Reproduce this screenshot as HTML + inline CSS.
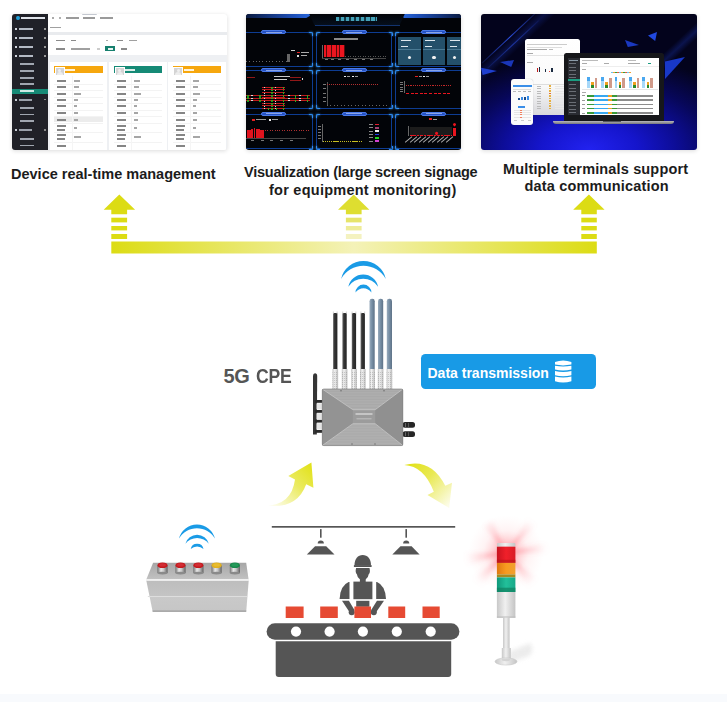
<!DOCTYPE html>
<html><head><meta charset="utf-8">
<style>
*{margin:0;padding:0;box-sizing:border-box}
html,body{width:727px;height:702px;overflow:hidden;background:#fff;font-family:"Liberation Sans",sans-serif}
.abs{position:absolute}
.card{position:absolute;border-radius:3px;overflow:hidden;box-shadow:0 1px 4px rgba(0,0,0,.14)}
.card div{position:absolute}
.cap{position:absolute;font-weight:bold;color:#1c1c1c;white-space:nowrap;font-size:14.5px;line-height:14px}
#strip{position:absolute;left:0;top:694px;width:727px;height:8px;background:#f8fafd}
</style></head><body>

<!-- card 1 : device management -->
<div class="card" id="c1" style="left:12px;top:14px;width:215px;height:136px;background:#eef0f3">
<!--C1-->
<div style="left:36.0px;top:0.0px;width:179.0px;height:11.0px;background:#fff;"></div>
<div style="left:69.6px;top:-0.8px;width:15.7px;height:1.6px;background:#c4c8d0;border-radius:1px"></div>
<div style="left:39.5px;top:3.0px;width:2.5px;height:2.2px;background:#aaa;"></div>
<div style="left:46.5px;top:3.0px;width:2.5px;height:2.2px;background:#b0b0b0;"></div>
<div style="left:53.8px;top:3.3px;width:13.0px;height:1.6px;background:#9a9a9a;"></div>
<div style="left:70.7px;top:3.3px;width:12.0px;height:1.6px;background:#9a9a9a;"></div>
<div style="left:87.7px;top:3.3px;width:12.9px;height:1.6px;background:#9a9a9a;"></div>
<div style="left:36.0px;top:11.0px;width:179.0px;height:7.0px;background:#fff;"></div>
<div style="left:38.0px;top:12.8px;width:10.5px;height:1.6px;background:#a0a0a0;"></div>
<div style="left:36.0px;top:18.0px;width:179.0px;height:3.0px;background:#e9ebee;"></div>
<div style="left:36.0px;top:21.0px;width:179.0px;height:20.0px;background:#fff;"></div>
<div style="left:43.8px;top:25.5px;width:9.0px;height:1.6px;background:#8a8a8a;"></div>
<div style="left:58.8px;top:25.5px;width:5.0px;height:1.6px;background:#8a8a8a;"></div>
<div style="left:94.0px;top:25.5px;width:1.5px;height:1.5px;background:#aaa;"></div>
<div style="left:105.0px;top:25.5px;width:6.0px;height:1.6px;background:#8a8a8a;"></div>
<div style="left:116.7px;top:25.5px;width:8.0px;height:1.6px;background:#a0a0a0;"></div>
<div style="left:43.8px;top:34.2px;width:9.0px;height:1.6px;background:#8a8a8a;"></div>
<div style="left:58.8px;top:34.2px;width:18.9px;height:1.6px;background:#a0a0a0;"></div>
<div style="left:85.0px;top:33.5px;width:2.5px;height:2.5px;background:#ccc;"></div>
<div style="left:93.3px;top:32.3px;width:9.3px;height:5.2px;background:#17806e;"></div>
<div style="left:95.5px;top:34.2px;width:5.0px;height:1.5px;background:#e8f4f2;"></div>
<div style="left:108.5px;top:34.2px;width:6.0px;height:1.6px;background:#8a8a8a;"></div>
<div style="left:38.4px;top:48.0px;width:56.9px;height:90.0px;background:#fff;"></div>
<div style="left:42.0px;top:52.0px;width:48.9px;height:7.4px;background:#f6a70e;"></div>
<div style="left:53.0px;top:54.8px;width:10.0px;height:2.0px;background:rgba(255,255,255,.85);"></div>
<div style="left:42.7px;top:52.7px;width:10.0px;height:9.4px;background:#d4d4d4;border:0.8px solid #fff"></div>
<div style="left:46.2px;top:54.5px;width:3.0px;height:3.0px;background:#f0f0f0;border-radius:50%"></div>
<div style="left:44.7px;top:58.2px;width:6.0px;height:3.0px;background:#eee;border-radius:3px 3px 0 0"></div>
<div style="left:42.0px;top:102.9px;width:48.9px;height:5.6px;background:#ececec;"></div>
<div style="left:42.0px;top:70.1px;width:48.9px;height:0.5px;background:#f3f3f3;"></div>
<div style="left:42.0px;top:76.4px;width:48.9px;height:0.5px;background:#f3f3f3;"></div>
<div style="left:42.0px;top:83.0px;width:48.9px;height:0.5px;background:#f3f3f3;"></div>
<div style="left:42.0px;top:89.2px;width:48.9px;height:0.5px;background:#f3f3f3;"></div>
<div style="left:42.0px;top:95.6px;width:48.9px;height:0.5px;background:#f3f3f3;"></div>
<div style="left:42.0px;top:102.4px;width:48.9px;height:0.5px;background:#f3f3f3;"></div>
<div style="left:42.0px;top:108.5px;width:48.9px;height:0.5px;background:#f3f3f3;"></div>
<div style="left:42.0px;top:118.3px;width:48.9px;height:0.5px;background:#f3f3f3;"></div>
<div style="left:42.0px;top:127.6px;width:48.9px;height:0.5px;background:#f3f3f3;"></div>
<div style="left:59.5px;top:62.0px;width:0.5px;height:74.0px;background:#f5f5f5;"></div>
<div style="left:45.4px;top:66.0px;width:9.0px;height:1.5px;background:#858585;"></div>
<div style="left:62.0px;top:66.0px;width:6.0px;height:1.5px;background:#a6a6a6;"></div>
<div style="left:45.4px;top:72.0px;width:9.0px;height:1.5px;background:#858585;"></div>
<div style="left:62.0px;top:72.0px;width:5.0px;height:1.5px;background:#a6a6a6;"></div>
<div style="left:45.4px;top:79.0px;width:9.0px;height:1.5px;background:#858585;"></div>
<div style="left:62.0px;top:79.0px;width:7.0px;height:1.5px;background:#a6a6a6;"></div>
<div style="left:45.4px;top:85.0px;width:9.0px;height:1.5px;background:#858585;"></div>
<div style="left:62.0px;top:85.0px;width:4.0px;height:1.5px;background:#a6a6a6;"></div>
<div style="left:45.4px;top:91.0px;width:9.0px;height:1.5px;background:#858585;"></div>
<div style="left:62.0px;top:91.0px;width:3.0px;height:1.5px;background:#a6a6a6;"></div>
<div style="left:45.4px;top:98.0px;width:9.0px;height:1.5px;background:#858585;"></div>
<div style="left:62.0px;top:98.0px;width:4.0px;height:1.5px;background:#a6a6a6;"></div>
<div style="left:45.4px;top:105.0px;width:9.0px;height:1.5px;background:#858585;"></div>
<div style="left:62.0px;top:105.0px;width:4.0px;height:1.5px;background:#a6a6a6;"></div>
<div style="left:45.4px;top:111.0px;width:9.0px;height:1.5px;background:#858585;"></div>
<div style="left:45.4px;top:115.0px;width:8.0px;height:1.5px;background:#858585;"></div>
<div style="left:62.0px;top:113.0px;width:3.0px;height:1.5px;background:#a6a6a6;"></div>
<div style="left:45.4px;top:120.0px;width:9.0px;height:1.5px;background:#858585;"></div>
<div style="left:45.4px;top:124.0px;width:8.0px;height:1.5px;background:#858585;"></div>
<div style="left:62.0px;top:122.0px;width:7.0px;height:1.5px;background:#a6a6a6;"></div>
<div style="left:45.4px;top:131.0px;width:9.0px;height:1.5px;background:#858585;"></div>
<div style="left:96.9px;top:48.0px;width:57.8px;height:90.0px;background:#fff;"></div>
<div style="left:101.9px;top:52.0px;width:47.8px;height:7.4px;background:#158a76;"></div>
<div style="left:112.9px;top:54.8px;width:10.0px;height:2.0px;background:rgba(255,255,255,.85);"></div>
<div style="left:102.6px;top:52.7px;width:10.0px;height:9.4px;background:#d4d4d4;border:0.8px solid #fff"></div>
<div style="left:106.1px;top:54.5px;width:3.0px;height:3.0px;background:#f0f0f0;border-radius:50%"></div>
<div style="left:104.6px;top:58.2px;width:6.0px;height:3.0px;background:#eee;border-radius:3px 3px 0 0"></div>
<div style="left:101.9px;top:70.1px;width:47.8px;height:0.5px;background:#f3f3f3;"></div>
<div style="left:101.9px;top:76.4px;width:47.8px;height:0.5px;background:#f3f3f3;"></div>
<div style="left:101.9px;top:83.0px;width:47.8px;height:0.5px;background:#f3f3f3;"></div>
<div style="left:101.9px;top:89.2px;width:47.8px;height:0.5px;background:#f3f3f3;"></div>
<div style="left:101.9px;top:95.6px;width:47.8px;height:0.5px;background:#f3f3f3;"></div>
<div style="left:101.9px;top:102.4px;width:47.8px;height:0.5px;background:#f3f3f3;"></div>
<div style="left:101.9px;top:108.5px;width:47.8px;height:0.5px;background:#f3f3f3;"></div>
<div style="left:101.9px;top:118.3px;width:47.8px;height:0.5px;background:#f3f3f3;"></div>
<div style="left:101.9px;top:127.6px;width:47.8px;height:0.5px;background:#f3f3f3;"></div>
<div style="left:119.4px;top:62.0px;width:0.5px;height:74.0px;background:#f5f5f5;"></div>
<div style="left:105.3px;top:66.0px;width:9.0px;height:1.5px;background:#858585;"></div>
<div style="left:121.9px;top:66.0px;width:6.0px;height:1.5px;background:#a6a6a6;"></div>
<div style="left:105.3px;top:72.0px;width:9.0px;height:1.5px;background:#858585;"></div>
<div style="left:121.9px;top:72.0px;width:5.0px;height:1.5px;background:#a6a6a6;"></div>
<div style="left:105.3px;top:79.0px;width:9.0px;height:1.5px;background:#858585;"></div>
<div style="left:121.9px;top:79.0px;width:7.0px;height:1.5px;background:#a6a6a6;"></div>
<div style="left:105.3px;top:85.0px;width:9.0px;height:1.5px;background:#858585;"></div>
<div style="left:121.9px;top:85.0px;width:4.0px;height:1.5px;background:#a6a6a6;"></div>
<div style="left:105.3px;top:91.0px;width:9.0px;height:1.5px;background:#858585;"></div>
<div style="left:121.9px;top:91.0px;width:3.0px;height:1.5px;background:#a6a6a6;"></div>
<div style="left:105.3px;top:98.0px;width:9.0px;height:1.5px;background:#858585;"></div>
<div style="left:121.9px;top:98.0px;width:4.0px;height:1.5px;background:#a6a6a6;"></div>
<div style="left:105.3px;top:105.0px;width:9.0px;height:1.5px;background:#858585;"></div>
<div style="left:121.9px;top:105.0px;width:4.0px;height:1.5px;background:#a6a6a6;"></div>
<div style="left:105.3px;top:111.0px;width:9.0px;height:1.5px;background:#858585;"></div>
<div style="left:105.3px;top:115.0px;width:8.0px;height:1.5px;background:#858585;"></div>
<div style="left:121.9px;top:113.0px;width:3.0px;height:1.5px;background:#a6a6a6;"></div>
<div style="left:105.3px;top:120.0px;width:9.0px;height:1.5px;background:#858585;"></div>
<div style="left:105.3px;top:124.0px;width:8.0px;height:1.5px;background:#858585;"></div>
<div style="left:121.9px;top:122.0px;width:7.0px;height:1.5px;background:#a6a6a6;"></div>
<div style="left:105.3px;top:131.0px;width:9.0px;height:1.5px;background:#858585;"></div>
<div style="left:156.3px;top:48.0px;width:57.7px;height:90.0px;background:#fff;"></div>
<div style="left:160.6px;top:52.0px;width:48.4px;height:7.4px;background:#f6a70e;"></div>
<div style="left:171.6px;top:54.8px;width:10.0px;height:2.0px;background:rgba(255,255,255,.85);"></div>
<div style="left:161.3px;top:52.7px;width:10.0px;height:9.4px;background:#d4d4d4;border:0.8px solid #fff"></div>
<div style="left:164.8px;top:54.5px;width:3.0px;height:3.0px;background:#f0f0f0;border-radius:50%"></div>
<div style="left:163.3px;top:58.2px;width:6.0px;height:3.0px;background:#eee;border-radius:3px 3px 0 0"></div>
<div style="left:160.6px;top:70.1px;width:48.4px;height:0.5px;background:#f3f3f3;"></div>
<div style="left:160.6px;top:76.4px;width:48.4px;height:0.5px;background:#f3f3f3;"></div>
<div style="left:160.6px;top:83.0px;width:48.4px;height:0.5px;background:#f3f3f3;"></div>
<div style="left:160.6px;top:89.2px;width:48.4px;height:0.5px;background:#f3f3f3;"></div>
<div style="left:160.6px;top:95.6px;width:48.4px;height:0.5px;background:#f3f3f3;"></div>
<div style="left:160.6px;top:102.4px;width:48.4px;height:0.5px;background:#f3f3f3;"></div>
<div style="left:160.6px;top:108.5px;width:48.4px;height:0.5px;background:#f3f3f3;"></div>
<div style="left:160.6px;top:118.3px;width:48.4px;height:0.5px;background:#f3f3f3;"></div>
<div style="left:160.6px;top:127.6px;width:48.4px;height:0.5px;background:#f3f3f3;"></div>
<div style="left:178.1px;top:62.0px;width:0.5px;height:74.0px;background:#f5f5f5;"></div>
<div style="left:164.0px;top:66.0px;width:9.0px;height:1.5px;background:#858585;"></div>
<div style="left:180.6px;top:66.0px;width:6.0px;height:1.5px;background:#a6a6a6;"></div>
<div style="left:164.0px;top:72.0px;width:9.0px;height:1.5px;background:#858585;"></div>
<div style="left:180.6px;top:72.0px;width:5.0px;height:1.5px;background:#a6a6a6;"></div>
<div style="left:164.0px;top:79.0px;width:9.0px;height:1.5px;background:#858585;"></div>
<div style="left:180.6px;top:79.0px;width:7.0px;height:1.5px;background:#a6a6a6;"></div>
<div style="left:164.0px;top:85.0px;width:9.0px;height:1.5px;background:#858585;"></div>
<div style="left:180.6px;top:85.0px;width:4.0px;height:1.5px;background:#a6a6a6;"></div>
<div style="left:164.0px;top:91.0px;width:9.0px;height:1.5px;background:#858585;"></div>
<div style="left:180.6px;top:91.0px;width:3.0px;height:1.5px;background:#a6a6a6;"></div>
<div style="left:164.0px;top:98.0px;width:9.0px;height:1.5px;background:#858585;"></div>
<div style="left:180.6px;top:98.0px;width:4.0px;height:1.5px;background:#a6a6a6;"></div>
<div style="left:164.0px;top:105.0px;width:9.0px;height:1.5px;background:#858585;"></div>
<div style="left:180.6px;top:105.0px;width:4.0px;height:1.5px;background:#a6a6a6;"></div>
<div style="left:164.0px;top:111.0px;width:9.0px;height:1.5px;background:#858585;"></div>
<div style="left:164.0px;top:115.0px;width:8.0px;height:1.5px;background:#858585;"></div>
<div style="left:180.6px;top:113.0px;width:3.0px;height:1.5px;background:#a6a6a6;"></div>
<div style="left:164.0px;top:120.0px;width:9.0px;height:1.5px;background:#858585;"></div>
<div style="left:164.0px;top:124.0px;width:8.0px;height:1.5px;background:#858585;"></div>
<div style="left:180.6px;top:122.0px;width:7.0px;height:1.5px;background:#a6a6a6;"></div>
<div style="left:164.0px;top:131.0px;width:9.0px;height:1.5px;background:#858585;"></div>
<div style="left:36.0px;top:135.6px;width:179.0px;height:1.0px;background:#e8e8e8;"></div>
<div style="left:0.0px;top:0.0px;width:36.0px;height:136.0px;background:#202128;"></div>
<div style="left:4.0px;top:2.0px;width:3.6px;height:4.0px;background:#1f9fd8;border-radius:50%"></div>
<div style="left:9.0px;top:3.2px;width:24.0px;height:1.8px;background:#dfe3ea;"></div>
<div style="left:3.0px;top:13.9px;width:2.0px;height:2.0px;background:#d0d4dc;"></div>
<div style="left:7.0px;top:14.0px;width:14.0px;height:1.8px;background:#b4bac4;"></div>
<div style="left:32.0px;top:14.1px;width:1.6px;height:1.6px;background:#999;"></div>
<div style="left:3.0px;top:22.9px;width:2.0px;height:2.0px;background:#d0d4dc;"></div>
<div style="left:7.0px;top:23.0px;width:14.0px;height:1.8px;background:#b4bac4;"></div>
<div style="left:32.0px;top:23.1px;width:1.6px;height:1.6px;background:#999;"></div>
<div style="left:3.0px;top:31.9px;width:2.0px;height:2.0px;background:#d0d4dc;"></div>
<div style="left:7.0px;top:32.0px;width:14.0px;height:1.8px;background:#b4bac4;"></div>
<div style="left:32.0px;top:32.1px;width:1.6px;height:1.6px;background:#999;"></div>
<div style="left:3.0px;top:40.8px;width:2.0px;height:2.0px;background:#d0d4dc;"></div>
<div style="left:7.0px;top:40.9px;width:14.0px;height:1.8px;background:#b4bac4;"></div>
<div style="left:32.0px;top:41.0px;width:1.6px;height:1.6px;background:#999;"></div>
<div style="left:8.0px;top:49.3px;width:13.5px;height:1.7px;background:#a0a6b0;"></div>
<div style="left:8.0px;top:55.9px;width:13.5px;height:1.7px;background:#a0a6b0;"></div>
<div style="left:8.0px;top:62.9px;width:13.5px;height:1.7px;background:#a0a6b0;"></div>
<div style="left:8.0px;top:69.4px;width:13.5px;height:1.7px;background:#a0a6b0;"></div>
<div style="left:0.0px;top:74.7px;width:36.0px;height:5.0px;background:#168a76;"></div>
<div style="left:8.0px;top:76.2px;width:14.0px;height:1.7px;background:#cfe9e4;"></div>
<div style="left:3.0px;top:84.7px;width:2.0px;height:2.0px;background:#c8ccd4;"></div>
<div style="left:7.0px;top:84.8px;width:13.0px;height:1.8px;background:#9aa0aa;"></div>
<div style="left:32.0px;top:84.9px;width:1.6px;height:1.6px;background:#888;"></div>
<div style="left:8.0px;top:93.3px;width:13.5px;height:1.7px;background:#a0a6b0;"></div>
<div style="left:8.0px;top:99.7px;width:13.5px;height:1.7px;background:#a0a6b0;"></div>
<div style="left:8.0px;top:106.3px;width:13.5px;height:1.7px;background:#a0a6b0;"></div>
<div style="left:3.0px;top:115.2px;width:2.0px;height:2.0px;background:#c8ccd4;"></div>
<div style="left:7.0px;top:115.3px;width:13.0px;height:1.8px;background:#9aa0aa;"></div>
<div style="left:32.0px;top:115.4px;width:1.6px;height:1.6px;background:#888;"></div>
<div style="left:8.0px;top:124.2px;width:13.5px;height:1.7px;background:#a0a6b0;"></div>
<div style="left:8.0px;top:130.6px;width:13.5px;height:1.7px;background:#a0a6b0;"></div>
<!--/C1-->
</div>
<!-- card 2 : dashboard -->
<div class="card" id="c2" style="left:246px;top:13.5px;width:215px;height:136px;background:#020408">
<!--C2-->
<div style="left:0.0px;top:0.0px;width:68.0px;height:4.7px;background:linear-gradient(90deg,#0a1a40,#1d4fb8 70%,#2a6be0);clip-path:polygon(0 0,100% 0,88% 100%,0 100%)"></div>
<div style="left:153.0px;top:0.0px;width:62.8px;height:4.5px;background:linear-gradient(90deg,#2a6be0,#1d4fb8 30%,#0a1a40);clip-path:polygon(0 0,100% 0,100% 100%,8% 100%)"></div>
<div style="left:63.0px;top:0.0px;width:96.0px;height:12.2px;background:linear-gradient(180deg,#020408 0%,#06101e 100%);clip-path:polygon(0 0,100% 0,94% 100%,6% 100%)"></div>
<div style="left:68.5px;top:11.7px;width:85.0px;height:0.6px;background:#12336e;"></div>
<div style="left:90.3px;top:3.3px;width:40.4px;height:4.6px;background:repeating-linear-gradient(90deg,#5ad4f0 0 3.2px,rgba(72,208,240,.3) 3.2px 5.05px);opacity:.75;filter:blur(0.45px)"></div>
<div style="left:-11.0px;top:18.8px;width:77.7px;height:34.4px;background:transparent;border:0.8px solid #0d3c92;border-radius:1.5px"></div>
<div style="left:-11.0px;top:18.8px;width:4.0px;height:4.0px;background:transparent;border-left:1.3px solid #2f8cf0;border-top:1.3px solid #2f8cf0;border-top-left-radius:2px;filter:drop-shadow(0 0 1px #3a9aff)"></div>
<div style="left:62.7px;top:18.8px;width:4.0px;height:4.0px;background:transparent;border-right:1.3px solid #2f8cf0;border-top:1.3px solid #2f8cf0;border-top-right-radius:2px;filter:drop-shadow(0 0 1px #3a9aff)"></div>
<div style="left:-11.0px;top:49.2px;width:4.0px;height:4.0px;background:transparent;border-left:1.3px solid #2f8cf0;border-bottom:1.3px solid #2f8cf0;border-bottom-left-radius:2px;filter:drop-shadow(0 0 1px #3a9aff)"></div>
<div style="left:62.7px;top:49.2px;width:4.0px;height:4.0px;background:transparent;border-right:1.3px solid #2f8cf0;border-bottom:1.3px solid #2f8cf0;border-bottom-right-radius:2px;filter:drop-shadow(0 0 1px #3a9aff)"></div>
<div style="left:-11.0px;top:56.6px;width:77.7px;height:38.7px;background:transparent;border:0.8px solid #0d3c92;border-radius:1.5px"></div>
<div style="left:-11.0px;top:56.6px;width:4.0px;height:4.0px;background:transparent;border-left:1.3px solid #2f8cf0;border-top:1.3px solid #2f8cf0;border-top-left-radius:2px;filter:drop-shadow(0 0 1px #3a9aff)"></div>
<div style="left:62.7px;top:56.6px;width:4.0px;height:4.0px;background:transparent;border-right:1.3px solid #2f8cf0;border-top:1.3px solid #2f8cf0;border-top-right-radius:2px;filter:drop-shadow(0 0 1px #3a9aff)"></div>
<div style="left:-11.0px;top:91.3px;width:4.0px;height:4.0px;background:transparent;border-left:1.3px solid #2f8cf0;border-bottom:1.3px solid #2f8cf0;border-bottom-left-radius:2px;filter:drop-shadow(0 0 1px #3a9aff)"></div>
<div style="left:62.7px;top:91.3px;width:4.0px;height:4.0px;background:transparent;border-right:1.3px solid #2f8cf0;border-bottom:1.3px solid #2f8cf0;border-bottom-right-radius:2px;filter:drop-shadow(0 0 1px #3a9aff)"></div>
<div style="left:-11.0px;top:100.1px;width:77.7px;height:35.9px;background:transparent;border:0.8px solid #0d3c92;border-radius:1.5px"></div>
<div style="left:-11.0px;top:100.1px;width:4.0px;height:4.0px;background:transparent;border-left:1.3px solid #2f8cf0;border-top:1.3px solid #2f8cf0;border-top-left-radius:2px;filter:drop-shadow(0 0 1px #3a9aff)"></div>
<div style="left:62.7px;top:100.1px;width:4.0px;height:4.0px;background:transparent;border-right:1.3px solid #2f8cf0;border-top:1.3px solid #2f8cf0;border-top-right-radius:2px;filter:drop-shadow(0 0 1px #3a9aff)"></div>
<div style="left:-11.0px;top:132.0px;width:4.0px;height:4.0px;background:transparent;border-left:1.3px solid #2f8cf0;border-bottom:1.3px solid #2f8cf0;border-bottom-left-radius:2px;filter:drop-shadow(0 0 1px #3a9aff)"></div>
<div style="left:62.7px;top:132.0px;width:4.0px;height:4.0px;background:transparent;border-right:1.3px solid #2f8cf0;border-bottom:1.3px solid #2f8cf0;border-bottom-right-radius:2px;filter:drop-shadow(0 0 1px #3a9aff)"></div>
<div style="left:69.6px;top:18.8px;width:76.9px;height:34.4px;background:transparent;border:0.8px solid #0d3c92;border-radius:1.5px"></div>
<div style="left:69.6px;top:18.8px;width:4.0px;height:4.0px;background:transparent;border-left:1.3px solid #2f8cf0;border-top:1.3px solid #2f8cf0;border-top-left-radius:2px;filter:drop-shadow(0 0 1px #3a9aff)"></div>
<div style="left:142.5px;top:18.8px;width:4.0px;height:4.0px;background:transparent;border-right:1.3px solid #2f8cf0;border-top:1.3px solid #2f8cf0;border-top-right-radius:2px;filter:drop-shadow(0 0 1px #3a9aff)"></div>
<div style="left:69.6px;top:49.2px;width:4.0px;height:4.0px;background:transparent;border-left:1.3px solid #2f8cf0;border-bottom:1.3px solid #2f8cf0;border-bottom-left-radius:2px;filter:drop-shadow(0 0 1px #3a9aff)"></div>
<div style="left:142.5px;top:49.2px;width:4.0px;height:4.0px;background:transparent;border-right:1.3px solid #2f8cf0;border-bottom:1.3px solid #2f8cf0;border-bottom-right-radius:2px;filter:drop-shadow(0 0 1px #3a9aff)"></div>
<div style="left:69.6px;top:56.6px;width:76.9px;height:38.7px;background:transparent;border:0.8px solid #0d3c92;border-radius:1.5px"></div>
<div style="left:69.6px;top:56.6px;width:4.0px;height:4.0px;background:transparent;border-left:1.3px solid #2f8cf0;border-top:1.3px solid #2f8cf0;border-top-left-radius:2px;filter:drop-shadow(0 0 1px #3a9aff)"></div>
<div style="left:142.5px;top:56.6px;width:4.0px;height:4.0px;background:transparent;border-right:1.3px solid #2f8cf0;border-top:1.3px solid #2f8cf0;border-top-right-radius:2px;filter:drop-shadow(0 0 1px #3a9aff)"></div>
<div style="left:69.6px;top:91.3px;width:4.0px;height:4.0px;background:transparent;border-left:1.3px solid #2f8cf0;border-bottom:1.3px solid #2f8cf0;border-bottom-left-radius:2px;filter:drop-shadow(0 0 1px #3a9aff)"></div>
<div style="left:142.5px;top:91.3px;width:4.0px;height:4.0px;background:transparent;border-right:1.3px solid #2f8cf0;border-bottom:1.3px solid #2f8cf0;border-bottom-right-radius:2px;filter:drop-shadow(0 0 1px #3a9aff)"></div>
<div style="left:69.6px;top:100.1px;width:76.9px;height:35.9px;background:transparent;border:0.8px solid #0d3c92;border-radius:1.5px"></div>
<div style="left:69.6px;top:100.1px;width:4.0px;height:4.0px;background:transparent;border-left:1.3px solid #2f8cf0;border-top:1.3px solid #2f8cf0;border-top-left-radius:2px;filter:drop-shadow(0 0 1px #3a9aff)"></div>
<div style="left:142.5px;top:100.1px;width:4.0px;height:4.0px;background:transparent;border-right:1.3px solid #2f8cf0;border-top:1.3px solid #2f8cf0;border-top-right-radius:2px;filter:drop-shadow(0 0 1px #3a9aff)"></div>
<div style="left:69.6px;top:132.0px;width:4.0px;height:4.0px;background:transparent;border-left:1.3px solid #2f8cf0;border-bottom:1.3px solid #2f8cf0;border-bottom-left-radius:2px;filter:drop-shadow(0 0 1px #3a9aff)"></div>
<div style="left:142.5px;top:132.0px;width:4.0px;height:4.0px;background:transparent;border-right:1.3px solid #2f8cf0;border-bottom:1.3px solid #2f8cf0;border-bottom-right-radius:2px;filter:drop-shadow(0 0 1px #3a9aff)"></div>
<div style="left:149.0px;top:18.8px;width:77.8px;height:34.4px;background:transparent;border:0.8px solid #0d3c92;border-radius:1.5px"></div>
<div style="left:149.0px;top:18.8px;width:4.0px;height:4.0px;background:transparent;border-left:1.3px solid #2f8cf0;border-top:1.3px solid #2f8cf0;border-top-left-radius:2px;filter:drop-shadow(0 0 1px #3a9aff)"></div>
<div style="left:222.8px;top:18.8px;width:4.0px;height:4.0px;background:transparent;border-right:1.3px solid #2f8cf0;border-top:1.3px solid #2f8cf0;border-top-right-radius:2px;filter:drop-shadow(0 0 1px #3a9aff)"></div>
<div style="left:149.0px;top:49.2px;width:4.0px;height:4.0px;background:transparent;border-left:1.3px solid #2f8cf0;border-bottom:1.3px solid #2f8cf0;border-bottom-left-radius:2px;filter:drop-shadow(0 0 1px #3a9aff)"></div>
<div style="left:222.8px;top:49.2px;width:4.0px;height:4.0px;background:transparent;border-right:1.3px solid #2f8cf0;border-bottom:1.3px solid #2f8cf0;border-bottom-right-radius:2px;filter:drop-shadow(0 0 1px #3a9aff)"></div>
<div style="left:149.0px;top:56.6px;width:77.8px;height:38.7px;background:transparent;border:0.8px solid #0d3c92;border-radius:1.5px"></div>
<div style="left:149.0px;top:56.6px;width:4.0px;height:4.0px;background:transparent;border-left:1.3px solid #2f8cf0;border-top:1.3px solid #2f8cf0;border-top-left-radius:2px;filter:drop-shadow(0 0 1px #3a9aff)"></div>
<div style="left:222.8px;top:56.6px;width:4.0px;height:4.0px;background:transparent;border-right:1.3px solid #2f8cf0;border-top:1.3px solid #2f8cf0;border-top-right-radius:2px;filter:drop-shadow(0 0 1px #3a9aff)"></div>
<div style="left:149.0px;top:91.3px;width:4.0px;height:4.0px;background:transparent;border-left:1.3px solid #2f8cf0;border-bottom:1.3px solid #2f8cf0;border-bottom-left-radius:2px;filter:drop-shadow(0 0 1px #3a9aff)"></div>
<div style="left:222.8px;top:91.3px;width:4.0px;height:4.0px;background:transparent;border-right:1.3px solid #2f8cf0;border-bottom:1.3px solid #2f8cf0;border-bottom-right-radius:2px;filter:drop-shadow(0 0 1px #3a9aff)"></div>
<div style="left:149.0px;top:100.1px;width:77.8px;height:35.9px;background:transparent;border:0.8px solid #0d3c92;border-radius:1.5px"></div>
<div style="left:149.0px;top:100.1px;width:4.0px;height:4.0px;background:transparent;border-left:1.3px solid #2f8cf0;border-top:1.3px solid #2f8cf0;border-top-left-radius:2px;filter:drop-shadow(0 0 1px #3a9aff)"></div>
<div style="left:222.8px;top:100.1px;width:4.0px;height:4.0px;background:transparent;border-right:1.3px solid #2f8cf0;border-top:1.3px solid #2f8cf0;border-top-right-radius:2px;filter:drop-shadow(0 0 1px #3a9aff)"></div>
<div style="left:149.0px;top:132.0px;width:4.0px;height:4.0px;background:transparent;border-left:1.3px solid #2f8cf0;border-bottom:1.3px solid #2f8cf0;border-bottom-left-radius:2px;filter:drop-shadow(0 0 1px #3a9aff)"></div>
<div style="left:222.8px;top:132.0px;width:4.0px;height:4.0px;background:transparent;border-right:1.3px solid #2f8cf0;border-bottom:1.3px solid #2f8cf0;border-bottom-right-radius:2px;filter:drop-shadow(0 0 1px #3a9aff)"></div>
<div style="left:15.4px;top:16.8px;width:25.0px;height:4.1px;background:#2552c4;border-radius:2px;border:0.5px solid #4a7ae8"></div>
<div style="left:19.9px;top:18.3px;width:16.0px;height:1.2px;background:rgba(220,230,255,.55);"></div>
<div style="left:15.4px;top:54.6px;width:25.0px;height:4.1px;background:#2552c4;border-radius:2px;border:0.5px solid #4a7ae8"></div>
<div style="left:19.9px;top:56.1px;width:16.0px;height:1.2px;background:rgba(220,230,255,.55);"></div>
<div style="left:15.4px;top:98.1px;width:25.0px;height:4.1px;background:#2552c4;border-radius:2px;border:0.5px solid #4a7ae8"></div>
<div style="left:19.9px;top:99.6px;width:16.0px;height:1.2px;background:rgba(220,230,255,.55);"></div>
<div style="left:95.6px;top:16.8px;width:25.0px;height:4.1px;background:#2552c4;border-radius:2px;border:0.5px solid #4a7ae8"></div>
<div style="left:100.1px;top:18.3px;width:16.0px;height:1.2px;background:rgba(220,230,255,.55);"></div>
<div style="left:95.6px;top:54.6px;width:25.0px;height:4.1px;background:#2552c4;border-radius:2px;border:0.5px solid #4a7ae8"></div>
<div style="left:100.1px;top:56.1px;width:16.0px;height:1.2px;background:rgba(220,230,255,.55);"></div>
<div style="left:95.6px;top:98.1px;width:25.0px;height:4.1px;background:#2552c4;border-radius:2px;border:0.5px solid #4a7ae8"></div>
<div style="left:100.1px;top:99.6px;width:16.0px;height:1.2px;background:rgba(220,230,255,.55);"></div>
<div style="left:175.4px;top:16.8px;width:25.0px;height:4.1px;background:#2552c4;border-radius:2px;border:0.5px solid #4a7ae8"></div>
<div style="left:179.9px;top:18.3px;width:16.0px;height:1.2px;background:rgba(220,230,255,.55);"></div>
<div style="left:175.4px;top:54.6px;width:25.0px;height:4.1px;background:#2552c4;border-radius:2px;border:0.5px solid #4a7ae8"></div>
<div style="left:179.9px;top:56.1px;width:16.0px;height:1.2px;background:rgba(220,230,255,.55);"></div>
<div style="left:175.4px;top:98.1px;width:25.0px;height:4.1px;background:#2552c4;border-radius:2px;border:0.5px solid #4a7ae8"></div>
<div style="left:179.9px;top:99.6px;width:16.0px;height:1.2px;background:rgba(220,230,255,.55);"></div>
<div style="left:41.0px;top:40.3px;width:2.8px;height:8.0px;background:#666;"></div>
<div style="left:45.0px;top:36.0px;width:4.0px;height:1.5px;background:#ccc;"></div>
<div style="left:50.5px;top:38.0px;width:3.0px;height:1.5px;background:#e02020;"></div>
<div style="left:55.0px;top:38.2px;width:8.0px;height:1.1px;background:#aaa;"></div>
<div style="left:51.0px;top:41.5px;width:2.0px;height:1.5px;background:#ddd;"></div>
<div style="left:55.0px;top:41.7px;width:6.0px;height:1.1px;background:#aaa;"></div>
<div style="left:0.0px;top:47.8px;width:42.0px;height:0.7px;background:repeating-linear-gradient(90deg,#666 0 1px,transparent 1px 3.3px);"></div>
<div style="left:0.0px;top:49.0px;width:42.0px;height:0.8px;background:repeating-linear-gradient(90deg,#555 0 1px,transparent 1px 3.3px);"></div>
<div style="left:87.7px;top:24.9px;width:24.0px;height:1.4px;background:#8a8a8a;"></div>
<div style="left:76.0px;top:31.5px;width:1.0px;height:12.5px;background:#666;"></div>
<div style="left:78.4px;top:31.7px;width:20.6px;height:12.0px;background:repeating-linear-gradient(90deg,#ec1620 0 2.1px,#5a0a0a 2.1px 2.6px);"></div>
<div style="left:99.0px;top:42.7px;width:42.0px;height:0.6px;background:repeating-linear-gradient(90deg,#555 0 1px,transparent 1px 2.5px);"></div>
<div style="left:76.0px;top:44.0px;width:64.0px;height:0.6px;background:#444;"></div>
<div style="left:79.0px;top:45.5px;width:3.0px;height:1.0px;background:#777;"></div>
<div style="left:85.0px;top:45.5px;width:3.0px;height:1.0px;background:#777;"></div>
<div style="left:92.0px;top:45.5px;width:3.0px;height:1.0px;background:#777;"></div>
<div style="left:100.0px;top:45.5px;width:3.0px;height:1.0px;background:#777;"></div>
<div style="left:108.0px;top:45.5px;width:3.0px;height:1.0px;background:#777;"></div>
<div style="left:116.0px;top:45.5px;width:3.0px;height:1.0px;background:#777;"></div>
<div style="left:124.0px;top:45.5px;width:3.0px;height:1.0px;background:#777;"></div>
<div style="left:152.0px;top:23.5px;width:22.9px;height:27.9px;background:#24506a;"></div>
<div style="left:152.0px;top:35.3px;width:22.9px;height:0.5px;background:#4a7a94;"></div>
<div style="left:154.5px;top:26.1px;width:10.0px;height:1.4px;background:#dfe8ee;"></div>
<div style="left:154.5px;top:32.1px;width:7.0px;height:1.4px;background:#dfe8ee;"></div>
<div style="left:161.6px;top:42.2px;width:3.6px;height:3.8px;background:#f0f0f0;border-radius:50%"></div>
<div style="left:176.9px;top:23.5px;width:22.3px;height:27.9px;background:#24506a;"></div>
<div style="left:176.9px;top:35.3px;width:22.3px;height:0.5px;background:#4a7a94;"></div>
<div style="left:179.4px;top:26.1px;width:10.0px;height:1.4px;background:#dfe8ee;"></div>
<div style="left:179.4px;top:32.1px;width:7.0px;height:1.4px;background:#dfe8ee;"></div>
<div style="left:186.2px;top:42.2px;width:3.6px;height:3.8px;background:#f0f0f0;border-radius:50%"></div>
<div style="left:201.2px;top:23.5px;width:14.6px;height:27.9px;background:#24506a;"></div>
<div style="left:201.2px;top:35.3px;width:14.6px;height:0.5px;background:#4a7a94;"></div>
<div style="left:203.7px;top:26.1px;width:10.0px;height:1.4px;background:#dfe8ee;"></div>
<div style="left:203.7px;top:32.1px;width:7.0px;height:1.4px;background:#dfe8ee;"></div>
<div style="left:206.7px;top:42.2px;width:3.6px;height:3.8px;background:#f0f0f0;border-radius:50%"></div>
<div style="left:27.9px;top:62.1px;width:16.0px;height:1.2px;background:#c8c8c8;"></div>
<div style="left:27.9px;top:65.0px;width:13.0px;height:1.2px;background:#d0d0d0;"></div>
<div style="left:44.0px;top:63.8px;width:11.0px;height:0.5px;background:#901818;"></div>
<div style="left:44.0px;top:66.7px;width:11.0px;height:0.5px;background:#901818;"></div>
<div style="left:55.5px;top:64.7px;width:1.6px;height:1.6px;background:#ddd;"></div>
<div style="left:0.5px;top:63.5px;width:8.0px;height:0.6px;background:#901818;"></div>
<div style="left:16.3px;top:73.1px;width:22.7px;height:0.7px;background:#c01a1a;"></div>
<div style="left:16.3px;top:75.8px;width:22.7px;height:0.7px;background:#c01a1a;"></div>
<div style="left:16.3px;top:78.4px;width:22.7px;height:0.7px;background:#c01a1a;"></div>
<div style="left:16.3px;top:81.0px;width:22.7px;height:0.7px;background:#c01a1a;"></div>
<div style="left:16.3px;top:83.7px;width:22.7px;height:0.7px;background:#c01a1a;"></div>
<div style="left:16.3px;top:86.3px;width:22.7px;height:0.7px;background:#c01a1a;"></div>
<div style="left:16.3px;top:89.0px;width:22.7px;height:0.7px;background:#c01a1a;"></div>
<div style="left:16.3px;top:91.6px;width:22.7px;height:0.7px;background:#c01a1a;"></div>
<div style="left:16.3px;top:94.3px;width:22.7px;height:0.7px;background:#c01a1a;"></div>
<div style="left:0.0px;top:81.7px;width:63.5px;height:0.8px;background:#c01a1a;"></div>
<div style="left:0.0px;top:84.1px;width:63.5px;height:0.8px;background:#c01a1a;"></div>
<div style="left:0.0px;top:86.5px;width:63.5px;height:0.8px;background:#c01a1a;"></div>
<div style="left:17.6px;top:73.7px;width:1.2px;height:1.0px;background:#d8d8d8;"></div>
<div style="left:29.1px;top:73.7px;width:1.4px;height:1.0px;background:#d8d8d8;"></div>
<div style="left:24.8px;top:73.5px;width:1.8px;height:1.8px;background:#22c022;border-radius:50%"></div>
<div style="left:36.7px;top:73.5px;width:1.8px;height:1.8px;background:#22c022;border-radius:50%"></div>
<div style="left:17.6px;top:76.4px;width:1.2px;height:1.0px;background:#d8d8d8;"></div>
<div style="left:29.1px;top:76.4px;width:1.4px;height:1.0px;background:#d8d8d8;"></div>
<div style="left:24.8px;top:76.2px;width:1.8px;height:1.8px;background:#22c022;border-radius:50%"></div>
<div style="left:36.7px;top:76.2px;width:1.8px;height:1.8px;background:#22c022;border-radius:50%"></div>
<div style="left:17.6px;top:79.0px;width:1.2px;height:1.0px;background:#d8d8d8;"></div>
<div style="left:29.1px;top:79.0px;width:1.4px;height:1.0px;background:#d8d8d8;"></div>
<div style="left:24.8px;top:78.8px;width:1.8px;height:1.8px;background:#22c022;border-radius:50%"></div>
<div style="left:36.7px;top:78.8px;width:1.8px;height:1.8px;background:#22c022;border-radius:50%"></div>
<div style="left:17.6px;top:81.7px;width:1.2px;height:1.0px;background:#d8d8d8;"></div>
<div style="left:29.1px;top:81.7px;width:1.4px;height:1.0px;background:#d8d8d8;"></div>
<div style="left:24.8px;top:81.5px;width:1.8px;height:1.8px;background:#22c022;border-radius:50%"></div>
<div style="left:36.7px;top:81.5px;width:1.8px;height:1.8px;background:#22c022;border-radius:50%"></div>
<div style="left:17.6px;top:84.3px;width:1.2px;height:1.0px;background:#d8d8d8;"></div>
<div style="left:29.1px;top:84.3px;width:1.4px;height:1.0px;background:#d8d8d8;"></div>
<div style="left:24.8px;top:84.1px;width:1.8px;height:1.8px;background:#22c022;border-radius:50%"></div>
<div style="left:36.7px;top:84.1px;width:1.8px;height:1.8px;background:#22c022;border-radius:50%"></div>
<div style="left:17.6px;top:87.0px;width:1.2px;height:1.0px;background:#d8d8d8;"></div>
<div style="left:29.1px;top:87.0px;width:1.4px;height:1.0px;background:#d8d8d8;"></div>
<div style="left:24.8px;top:86.8px;width:1.8px;height:1.8px;background:#22c022;border-radius:50%"></div>
<div style="left:36.7px;top:86.8px;width:1.8px;height:1.8px;background:#22c022;border-radius:50%"></div>
<div style="left:17.6px;top:89.6px;width:1.2px;height:1.0px;background:#d8d8d8;"></div>
<div style="left:29.1px;top:89.6px;width:1.4px;height:1.0px;background:#d8d8d8;"></div>
<div style="left:24.8px;top:89.4px;width:1.8px;height:1.8px;background:#22c022;border-radius:50%"></div>
<div style="left:36.7px;top:89.4px;width:1.8px;height:1.8px;background:#22c022;border-radius:50%"></div>
<div style="left:17.6px;top:92.2px;width:1.2px;height:1.0px;background:#d8d8d8;"></div>
<div style="left:29.1px;top:92.2px;width:1.4px;height:1.0px;background:#d8d8d8;"></div>
<div style="left:24.8px;top:92.0px;width:1.8px;height:1.8px;background:#22c022;border-radius:50%"></div>
<div style="left:36.7px;top:92.0px;width:1.8px;height:1.8px;background:#22c022;border-radius:50%"></div>
<div style="left:17.6px;top:94.9px;width:1.2px;height:1.0px;background:#d8d8d8;"></div>
<div style="left:29.1px;top:94.9px;width:1.4px;height:1.0px;background:#d8d8d8;"></div>
<div style="left:24.8px;top:94.7px;width:1.8px;height:1.8px;background:#22c022;border-radius:50%"></div>
<div style="left:36.7px;top:94.7px;width:1.8px;height:1.8px;background:#22c022;border-radius:50%"></div>
<div style="left:1.4px;top:81.5px;width:1.8px;height:1.8px;background:#22c022;border-radius:50%"></div>
<div style="left:1.4px;top:83.9px;width:1.8px;height:1.8px;background:#22c022;border-radius:50%"></div>
<div style="left:1.4px;top:86.3px;width:1.8px;height:1.8px;background:#22c022;border-radius:50%"></div>
<div style="left:13.3px;top:81.5px;width:1.8px;height:1.8px;background:#22c022;border-radius:50%"></div>
<div style="left:13.3px;top:83.9px;width:1.8px;height:1.8px;background:#22c022;border-radius:50%"></div>
<div style="left:13.3px;top:86.3px;width:1.8px;height:1.8px;background:#22c022;border-radius:50%"></div>
<div style="left:48.6px;top:81.5px;width:1.8px;height:1.8px;background:#22c022;border-radius:50%"></div>
<div style="left:48.6px;top:83.9px;width:1.8px;height:1.8px;background:#22c022;border-radius:50%"></div>
<div style="left:48.6px;top:86.3px;width:1.8px;height:1.8px;background:#22c022;border-radius:50%"></div>
<div style="left:60.6px;top:81.5px;width:1.8px;height:1.8px;background:#22c022;border-radius:50%"></div>
<div style="left:60.6px;top:83.9px;width:1.8px;height:1.8px;background:#22c022;border-radius:50%"></div>
<div style="left:60.6px;top:86.3px;width:1.8px;height:1.8px;background:#22c022;border-radius:50%"></div>
<div style="left:5.0px;top:81.8px;width:1.6px;height:1.0px;background:#d8d8d8;"></div>
<div style="left:5.0px;top:84.2px;width:1.6px;height:1.0px;background:#d8d8d8;"></div>
<div style="left:5.0px;top:86.6px;width:1.6px;height:1.0px;background:#d8d8d8;"></div>
<div style="left:42.0px;top:81.8px;width:1.6px;height:1.0px;background:#d8d8d8;"></div>
<div style="left:42.0px;top:84.2px;width:1.6px;height:1.0px;background:#d8d8d8;"></div>
<div style="left:42.0px;top:86.6px;width:1.6px;height:1.0px;background:#d8d8d8;"></div>
<div style="left:53.0px;top:81.8px;width:1.6px;height:1.0px;background:#d8d8d8;"></div>
<div style="left:53.0px;top:84.2px;width:1.6px;height:1.0px;background:#d8d8d8;"></div>
<div style="left:53.0px;top:86.6px;width:1.6px;height:1.0px;background:#d8d8d8;"></div>
<div style="left:21.6px;top:94.5px;width:1.6px;height:1.6px;background:#22c022;border-radius:50%"></div>
<div style="left:29.8px;top:94.5px;width:1.6px;height:1.6px;background:#22c022;border-radius:50%"></div>
<div style="left:80.5px;top:68.5px;width:0.6px;height:23.0px;background:#555;"></div>
<div style="left:76.5px;top:70.5px;width:3.0px;height:0.9px;background:#777;"></div>
<div style="left:76.5px;top:74.8px;width:3.0px;height:0.9px;background:#777;"></div>
<div style="left:76.5px;top:79.1px;width:3.0px;height:0.9px;background:#777;"></div>
<div style="left:76.5px;top:83.4px;width:3.0px;height:0.9px;background:#777;"></div>
<div style="left:76.5px;top:87.7px;width:3.0px;height:0.9px;background:#777;"></div>
<div style="left:80.5px;top:70.9px;width:51.0px;height:0.6px;background:repeating-linear-gradient(90deg,#b03030 0 1px,transparent 1px 2px);"></div>
<div style="left:80.5px;top:91.6px;width:60.0px;height:0.7px;background:repeating-linear-gradient(90deg,#666 0 1px,transparent 1px 3.5px);"></div>
<div style="left:98.0px;top:62.3px;width:1.5px;height:1.5px;background:#eee;"></div>
<div style="left:100.5px;top:62.5px;width:3.0px;height:1.0px;background:#999;"></div>
<div style="left:106.0px;top:62.3px;width:1.5px;height:1.5px;background:#eee;"></div>
<div style="left:108.5px;top:62.5px;width:3.0px;height:1.0px;background:#999;"></div>
<div style="left:169.0px;top:62.3px;width:2.5px;height:1.4px;background:#e02020;"></div>
<div style="left:172.5px;top:62.5px;width:3.0px;height:1.0px;background:#999;"></div>
<div style="left:177.0px;top:62.3px;width:2.0px;height:1.4px;background:#eee;"></div>
<div style="left:180.0px;top:62.5px;width:3.0px;height:1.0px;background:#999;"></div>
<div style="left:157.5px;top:67.5px;width:0.6px;height:12.0px;background:#666;"></div>
<div style="left:154.0px;top:68.5px;width:3.0px;height:0.9px;background:#777;"></div>
<div style="left:154.0px;top:70.8px;width:3.0px;height:0.9px;background:#777;"></div>
<div style="left:154.0px;top:73.1px;width:3.0px;height:0.9px;background:#777;"></div>
<div style="left:154.0px;top:75.4px;width:3.0px;height:0.9px;background:#777;"></div>
<div style="left:154.0px;top:77.7px;width:3.0px;height:0.9px;background:#777;"></div>
<div style="left:160.0px;top:71.7px;width:46.0px;height:0.8px;background:repeating-linear-gradient(90deg,#c02828 0 1.2px,transparent 1.2px 2.2px);"></div>
<div style="left:160.0px;top:79.2px;width:46.0px;height:1.6px;background:repeating-linear-gradient(90deg,#e8141e 0 3px,transparent 3px 4.6px);"></div>
<div style="left:160.0px;top:83.0px;width:46.0px;height:0.8px;background:repeating-linear-gradient(90deg,#888 0 1px,transparent 1px 4.6px);"></div>
<div style="left:6.0px;top:105.7px;width:3.0px;height:1.5px;background:#e02020;"></div>
<div style="left:10.0px;top:105.9px;width:10.0px;height:1.0px;background:#999;"></div>
<div style="left:23.0px;top:105.7px;width:1.5px;height:1.5px;background:#eee;"></div>
<div style="left:25.5px;top:105.9px;width:6.0px;height:1.0px;background:#999;"></div>
<div style="left:1.0px;top:116.7px;width:1.8px;height:8.0px;background:#e0141e;"></div>
<div style="left:3.2px;top:116.2px;width:1.8px;height:8.5px;background:#e0141e;"></div>
<div style="left:5.4px;top:115.7px;width:1.8px;height:9.0px;background:#e0141e;"></div>
<div style="left:7.6px;top:114.2px;width:1.8px;height:10.5px;background:#e0141e;"></div>
<div style="left:9.8px;top:115.7px;width:1.8px;height:9.0px;background:#e0141e;"></div>
<div style="left:12.0px;top:115.7px;width:1.8px;height:9.0px;background:#e0141e;"></div>
<div style="left:14.2px;top:116.2px;width:1.8px;height:8.5px;background:#e0141e;"></div>
<div style="left:16.4px;top:116.7px;width:1.8px;height:8.0px;background:#e0141e;"></div>
<div style="left:18.6px;top:116.9px;width:46.0px;height:0.7px;background:repeating-linear-gradient(90deg,#b03030 0 1px,transparent 1px 2.4px);"></div>
<div style="left:0.0px;top:124.7px;width:60.0px;height:0.6px;background:#444;"></div>
<div style="left:5.0px;top:126.3px;width:3.0px;height:1.0px;background:#777;"></div>
<div style="left:15.0px;top:126.3px;width:3.0px;height:1.0px;background:#777;"></div>
<div style="left:24.0px;top:126.3px;width:3.0px;height:1.0px;background:#777;"></div>
<div style="left:34.0px;top:126.3px;width:3.0px;height:1.0px;background:#777;"></div>
<div style="left:44.0px;top:126.3px;width:3.0px;height:1.0px;background:#777;"></div>
<div style="left:76.0px;top:110.5px;width:0.6px;height:18.0px;background:#666;"></div>
<div style="left:72.0px;top:112.5px;width:3.0px;height:0.9px;background:#777;"></div>
<div style="left:72.0px;top:115.5px;width:3.0px;height:0.9px;background:#777;"></div>
<div style="left:72.0px;top:118.5px;width:3.0px;height:0.9px;background:#777;"></div>
<div style="left:72.0px;top:121.5px;width:3.0px;height:0.9px;background:#777;"></div>
<div style="left:72.0px;top:124.5px;width:3.0px;height:0.9px;background:#777;"></div>
<div style="left:77.4px;top:117.3px;width:40.0px;height:0.7px;background:repeating-linear-gradient(90deg,#a03a5a 0 1px,transparent 1px 1.8px);"></div>
<div style="left:77.4px;top:127.6px;width:40.0px;height:1.0px;background:repeating-linear-gradient(90deg,#c8c020 0 1.2px,transparent 1.2px 1.9px);"></div>
<div style="left:123.0px;top:110.5px;width:4.0px;height:0.9px;background:#888;"></div>
<div style="left:129.0px;top:110.1px;width:3.5px;height:1.8px;background:#e02030;"></div>
<div style="left:123.0px;top:113.8px;width:4.0px;height:0.9px;background:#888;"></div>
<div style="left:129.0px;top:113.4px;width:3.5px;height:1.8px;background:#a04070;"></div>
<div style="left:123.0px;top:117.1px;width:4.0px;height:0.9px;background:#888;"></div>
<div style="left:129.0px;top:116.7px;width:3.5px;height:1.8px;background:#eeeeee;"></div>
<div style="left:123.0px;top:120.4px;width:4.0px;height:0.9px;background:#888;"></div>
<div style="left:129.0px;top:120.0px;width:3.5px;height:1.8px;background:#2040e0;"></div>
<div style="left:123.0px;top:123.7px;width:4.0px;height:0.9px;background:#888;"></div>
<div style="left:129.0px;top:123.3px;width:3.5px;height:1.8px;background:#20d020;"></div>
<div style="left:123.0px;top:127.0px;width:4.0px;height:0.9px;background:#888;"></div>
<div style="left:129.0px;top:126.6px;width:3.5px;height:1.8px;background:#d040d0;"></div>
<div style="left:183.0px;top:104.8px;width:3.0px;height:1.4px;background:#e02020;"></div>
<div style="left:187.0px;top:105.0px;width:4.0px;height:1.0px;background:#999;"></div>
<div style="left:164.0px;top:113.5px;width:42.0px;height:8.6px;background:#1c1c1c;"></div>
<div style="left:162.0px;top:112.5px;width:0.6px;height:10.0px;background:#666;"></div>
<div style="left:164.0px;top:121.8px;width:42.0px;height:1.0px;background:repeating-linear-gradient(90deg,#e8141e 0 2.5px,transparent 2.5px 3.4px);"></div>
<div style="left:206.8px;top:114.5px;width:3.0px;height:7.6px;background:#e8141e;"></div>
<div style="left:207.0px;top:109.9px;width:3.0px;height:3.0px;background:#e8141e;border-radius:50% 50% 50% 0;transform:rotate(-45deg)"></div>
<div style="left:189.2px;top:118.3px;width:2.6px;height:2.6px;background:#e8141e;border-radius:50% 50% 50% 0;transform:rotate(-45deg)"></div>
<div style="left:158.0px;top:125.5px;width:9.0px;height:0.8px;background:#aaa;transform:rotate(-40deg)"></div>
<div style="left:162.5px;top:125.5px;width:9.0px;height:0.8px;background:#aaa;transform:rotate(-40deg)"></div>
<div style="left:167.0px;top:125.5px;width:9.0px;height:0.8px;background:#aaa;transform:rotate(-40deg)"></div>
<div style="left:171.5px;top:125.5px;width:9.0px;height:0.8px;background:#aaa;transform:rotate(-40deg)"></div>
<div style="left:176.0px;top:125.5px;width:9.0px;height:0.8px;background:#aaa;transform:rotate(-40deg)"></div>
<div style="left:180.5px;top:125.5px;width:9.0px;height:0.8px;background:#aaa;transform:rotate(-40deg)"></div>
<div style="left:185.0px;top:125.5px;width:9.0px;height:0.8px;background:#aaa;transform:rotate(-40deg)"></div>
<div style="left:189.5px;top:125.5px;width:9.0px;height:0.8px;background:#aaa;transform:rotate(-40deg)"></div>
<div style="left:194.0px;top:125.5px;width:9.0px;height:0.8px;background:#aaa;transform:rotate(-40deg)"></div>
<div style="left:198.5px;top:125.5px;width:9.0px;height:0.8px;background:#aaa;transform:rotate(-40deg)"></div>
<!--/C2-->
</div>
<!-- card 3 : terminals -->
<div class="card" id="c3" style="left:481px;top:13.5px;width:216px;height:136px;background:radial-gradient(ellipse 80% 72% at 50% 100%,#2222f0 0%,#1515cc 28%,#0d0d98 50%,#07075a 72%,#03031c 100%)">
<!--C3-->
<div style="left:-26.0px;top:26.5px;width:110.0px;height:14.0px;background:linear-gradient(180deg,transparent,rgba(20,40,140,.35),transparent);transform:rotate(-43deg)"></div>
<div style="left:-9.0px;top:23.0px;width:75.0px;height:1.2px;background:linear-gradient(90deg,rgba(40,80,230,.2),rgba(50,90,255,.85) 50%,rgba(40,80,230,.2));transform:rotate(-43deg);filter:blur(0.3px)"></div>
<div style="left:-3.0px;top:30.5px;width:70.0px;height:0.8px;background:linear-gradient(90deg,rgba(40,80,230,.1),rgba(50,90,255,.5) 50%,rgba(40,80,230,.1));transform:rotate(-43deg)"></div>
<div style="left:159.0px;top:26.5px;width:80.0px;height:12.0px;background:linear-gradient(180deg,transparent,rgba(25,50,170,.35),transparent);transform:rotate(-43deg)"></div>
<div style="left:0.0px;top:52.5px;width:16.0px;height:9.0px;background:#1f3fcf;clip-path:polygon(0 20%,100% 55%,10% 100%)"></div>
<div style="left:19.0px;top:46.5px;width:14.0px;height:7.0px;background:#1a36b8;clip-path:polygon(0 30%,100% 0,80% 100%)"></div>
<div style="left:144.0px;top:26.5px;width:14.0px;height:7.0px;background:#1a38c0;clip-path:polygon(0 0,100% 70%,20% 100%)"></div>
<div style="left:167.0px;top:18.5px;width:9.0px;height:9.0px;background:#2048e0;clip-path:polygon(0 40%,100% 0,80% 100%)"></div>
<div style="left:184.0px;top:43.5px;width:20.0px;height:22.0px;background:#1838c8;clip-path:polygon(0 20%,100% 0,0 100%)"></div>
<div style="left:43.9px;top:25.8px;width:55.6px;height:76.1px;background:linear-gradient(180deg,#fff 0%,#fafafa 60%,#d8d8dc 100%);border-radius:2.5px"></div>
<div style="left:46.0px;top:30.5px;width:40.0px;height:1.2px;background:#ccc;"></div>
<div style="left:46.0px;top:33.0px;width:35.0px;height:0.6px;background:#ddd;"></div>
<div style="left:46.0px;top:35.0px;width:20.0px;height:1.1px;background:#aaa;"></div>
<div style="left:68.0px;top:35.0px;width:4.0px;height:1.1px;background:#bbb;"></div>
<div style="left:46.0px;top:39.0px;width:6.0px;height:1.1px;background:#aaa;"></div>
<div style="left:46.0px;top:41.5px;width:52.0px;height:0.5px;background:#e4e4e4;"></div>
<div style="left:46.0px;top:48.2px;width:6.0px;height:0.9px;background:#aaa;"></div>
<div style="left:55.5px;top:54.5px;width:1.8px;height:4.0px;background:#c01818;"></div>
<div style="left:57.5px;top:53.5px;width:1.8px;height:5.0px;background:#1a2a40;"></div>
<div style="left:63.5px;top:55.0px;width:1.8px;height:3.5px;background:#1a2a40;"></div>
<div style="left:67.5px;top:57.5px;width:1.8px;height:1.0px;background:#e04040;"></div>
<div style="left:70.0px;top:54.5px;width:1.8px;height:4.0px;background:#1a2a40;"></div>
<div style="left:46.0px;top:70.5px;width:52.0px;height:0.5px;background:#ddd;"></div>
<div style="left:49.0px;top:72.0px;width:3.0px;height:0.8px;background:#bbb;"></div>
<div style="left:56.0px;top:72.0px;width:4.0px;height:0.8px;background:#bbb;"></div>
<div style="left:67.5px;top:71.7px;width:2.4px;height:1.5px;background:#e8b040;"></div>
<div style="left:74.0px;top:72.0px;width:20.0px;height:0.6px;background:#e8e8e8;"></div>
<div style="left:49.0px;top:74.5px;width:3.0px;height:0.8px;background:#bbb;"></div>
<div style="left:56.0px;top:74.5px;width:4.0px;height:0.8px;background:#bbb;"></div>
<div style="left:67.5px;top:74.2px;width:2.4px;height:1.5px;background:#e8b040;"></div>
<div style="left:74.0px;top:74.5px;width:20.0px;height:0.6px;background:#e8e8e8;"></div>
<div style="left:49.0px;top:77.0px;width:3.0px;height:0.8px;background:#bbb;"></div>
<div style="left:56.0px;top:77.0px;width:4.0px;height:0.8px;background:#bbb;"></div>
<div style="left:67.5px;top:76.7px;width:2.4px;height:1.5px;background:#e8b040;"></div>
<div style="left:74.0px;top:77.0px;width:20.0px;height:0.6px;background:#e8e8e8;"></div>
<div style="left:49.0px;top:79.5px;width:3.0px;height:0.8px;background:#bbb;"></div>
<div style="left:56.0px;top:79.5px;width:4.0px;height:0.8px;background:#bbb;"></div>
<div style="left:67.5px;top:79.2px;width:2.4px;height:1.5px;background:#e07030;"></div>
<div style="left:74.0px;top:79.5px;width:20.0px;height:0.6px;background:#e8e8e8;"></div>
<div style="left:49.0px;top:82.0px;width:3.0px;height:0.8px;background:#bbb;"></div>
<div style="left:56.0px;top:82.0px;width:4.0px;height:0.8px;background:#bbb;"></div>
<div style="left:67.5px;top:81.7px;width:2.4px;height:1.5px;background:#e8b040;"></div>
<div style="left:74.0px;top:82.0px;width:20.0px;height:0.6px;background:#e8e8e8;"></div>
<div style="left:49.0px;top:84.5px;width:3.0px;height:0.8px;background:#bbb;"></div>
<div style="left:56.0px;top:84.5px;width:4.0px;height:0.8px;background:#bbb;"></div>
<div style="left:67.5px;top:84.2px;width:2.4px;height:1.5px;background:#e8b040;"></div>
<div style="left:74.0px;top:84.5px;width:20.0px;height:0.6px;background:#e8e8e8;"></div>
<div style="left:49.0px;top:87.0px;width:3.0px;height:0.8px;background:#bbb;"></div>
<div style="left:56.0px;top:87.0px;width:4.0px;height:0.8px;background:#bbb;"></div>
<div style="left:67.5px;top:86.7px;width:2.4px;height:1.5px;background:#e8b040;"></div>
<div style="left:74.0px;top:87.0px;width:20.0px;height:0.6px;background:#e8e8e8;"></div>
<div style="left:49.0px;top:89.5px;width:3.0px;height:0.8px;background:#bbb;"></div>
<div style="left:56.0px;top:89.5px;width:4.0px;height:0.8px;background:#bbb;"></div>
<div style="left:67.5px;top:89.2px;width:2.4px;height:1.5px;background:#e8b040;"></div>
<div style="left:74.0px;top:89.5px;width:20.0px;height:0.6px;background:#e8e8e8;"></div>
<div style="left:49.0px;top:92.0px;width:3.0px;height:0.8px;background:#bbb;"></div>
<div style="left:56.0px;top:92.0px;width:4.0px;height:0.8px;background:#bbb;"></div>
<div style="left:67.5px;top:91.7px;width:2.4px;height:1.5px;background:#e8b040;"></div>
<div style="left:74.0px;top:92.0px;width:20.0px;height:0.6px;background:#e8e8e8;"></div>
<div style="left:49.0px;top:94.5px;width:3.0px;height:0.8px;background:#bbb;"></div>
<div style="left:56.0px;top:94.5px;width:4.0px;height:0.8px;background:#bbb;"></div>
<div style="left:67.5px;top:94.2px;width:2.4px;height:1.5px;background:#e8b040;"></div>
<div style="left:74.0px;top:94.5px;width:20.0px;height:0.6px;background:#e8e8e8;"></div>
<div style="left:72.0px;top:107.0px;width:121.0px;height:3.3px;background:linear-gradient(180deg,#b8b8bc,#76767a);border-radius:0 0 3px 3px"></div>
<div style="left:122.0px;top:107.0px;width:18.0px;height:1.2px;background:#55575c;"></div>
<div style="left:82.5px;top:39.8px;width:100.0px;height:67.5px;background:#16171a;border-radius:2.5px 2.5px 0 0"></div>
<div style="left:86.5px;top:44.3px;width:12.3px;height:57.6px;background:#2a2c32;"></div>
<div style="left:87.5px;top:46.1px;width:9.0px;height:1.4px;background:#8a9aa8;"></div>
<div style="left:88.0px;top:49.5px;width:7.0px;height:0.7px;background:#6a6e76;"></div>
<div style="left:88.0px;top:53.0px;width:7.0px;height:0.7px;background:#6a6e76;"></div>
<div style="left:88.0px;top:56.5px;width:7.0px;height:0.7px;background:#6a6e76;"></div>
<div style="left:88.0px;top:60.0px;width:7.0px;height:0.7px;background:#6a6e76;"></div>
<div style="left:88.0px;top:63.5px;width:7.0px;height:0.7px;background:#6a6e76;"></div>
<div style="left:88.0px;top:70.5px;width:7.0px;height:0.7px;background:#6a6e76;"></div>
<div style="left:88.0px;top:74.0px;width:7.0px;height:0.7px;background:#6a6e76;"></div>
<div style="left:88.0px;top:77.5px;width:7.0px;height:0.7px;background:#6a6e76;"></div>
<div style="left:88.0px;top:81.0px;width:7.0px;height:0.7px;background:#6a6e76;"></div>
<div style="left:88.0px;top:84.5px;width:7.0px;height:0.7px;background:#6a6e76;"></div>
<div style="left:88.0px;top:88.0px;width:7.0px;height:0.7px;background:#6a6e76;"></div>
<div style="left:88.0px;top:91.5px;width:7.0px;height:0.7px;background:#6a6e76;"></div>
<div style="left:88.0px;top:95.0px;width:7.0px;height:0.7px;background:#6a6e76;"></div>
<div style="left:88.0px;top:98.5px;width:7.0px;height:0.7px;background:#6a6e76;"></div>
<div style="left:86.5px;top:65.6px;width:12.3px;height:2.2px;background:#1a9c80;"></div>
<div style="left:98.8px;top:44.3px;width:79.6px;height:57.6px;background:#ffffff;"></div>
<div style="left:101.0px;top:46.3px;width:16.0px;height:0.8px;background:#bbb;"></div>
<div style="left:147.0px;top:46.3px;width:8.0px;height:0.8px;background:#bbb;"></div>
<div style="left:101.0px;top:49.8px;width:5.0px;height:0.8px;background:#aaa;"></div>
<div style="left:123.0px;top:49.8px;width:5.0px;height:0.8px;background:#aaa;"></div>
<div style="left:147.0px;top:49.8px;width:12.0px;height:0.8px;background:#aaa;"></div>
<div style="left:166.5px;top:49.1px;width:3.5px;height:1.6px;background:#1a9c80;"></div>
<div style="left:99.0px;top:52.5px;width:79.0px;height:0.4px;background:#eee;"></div>
<div style="left:101.0px;top:55.7px;width:4.0px;height:0.8px;background:#aaa;"></div>
<div style="left:130.0px;top:58.5px;width:20.0px;height:1.0px;background:repeating-linear-gradient(90deg,#6cc0f0 0 2px,#f0a030 2px 4px,#30a040 4px 6px,#e06040 6px 8px);"></div>
<div style="left:105.8px;top:63.3px;width:2.9px;height:11.3px;background:linear-gradient(180deg,#4aa8f0 0 35%,#a8d8f8 35% 100%);"></div>
<div style="left:110.2px;top:68.5px;width:2.4px;height:6.1px;background:linear-gradient(180deg,#f0a020 0 45%,#2a8a2a 45% 100%);"></div>
<div style="left:113.6px;top:64.0px;width:2.8px;height:10.6px;background:#d09a8a;"></div>
<div style="left:120.0px;top:63.3px;width:2.9px;height:11.3px;background:linear-gradient(180deg,#4aa8f0 0 35%,#a8d8f8 35% 100%);"></div>
<div style="left:124.4px;top:68.5px;width:2.4px;height:6.1px;background:linear-gradient(180deg,#f0a020 0 45%,#2a8a2a 45% 100%);"></div>
<div style="left:127.8px;top:64.0px;width:2.8px;height:10.6px;background:#d09a8a;"></div>
<div style="left:133.5px;top:63.3px;width:2.9px;height:11.3px;background:linear-gradient(180deg,#4aa8f0 0 35%,#a8d8f8 35% 100%);"></div>
<div style="left:137.9px;top:68.5px;width:2.4px;height:6.1px;background:linear-gradient(180deg,#f0a020 0 45%,#2a8a2a 45% 100%);"></div>
<div style="left:141.3px;top:64.0px;width:2.8px;height:10.6px;background:#d09a8a;"></div>
<div style="left:147.8px;top:63.3px;width:2.9px;height:11.3px;background:linear-gradient(180deg,#4aa8f0 0 35%,#a8d8f8 35% 100%);"></div>
<div style="left:152.2px;top:68.5px;width:2.4px;height:6.1px;background:linear-gradient(180deg,#f0a020 0 45%,#2a8a2a 45% 100%);"></div>
<div style="left:155.6px;top:64.0px;width:2.8px;height:10.6px;background:#d09a8a;"></div>
<div style="left:161.3px;top:63.3px;width:2.9px;height:11.3px;background:linear-gradient(180deg,#4aa8f0 0 35%,#a8d8f8 35% 100%);"></div>
<div style="left:165.7px;top:68.5px;width:2.4px;height:6.1px;background:linear-gradient(180deg,#f0a020 0 45%,#2a8a2a 45% 100%);"></div>
<div style="left:169.1px;top:64.0px;width:2.8px;height:10.6px;background:#d09a8a;"></div>
<div style="left:101.0px;top:75.5px;width:76.0px;height:0.4px;background:#e6e6e6;"></div>
<div style="left:101.0px;top:78.3px;width:4.0px;height:0.8px;background:#aaa;"></div>
<div style="left:101.0px;top:81.9px;width:3.0px;height:0.8px;background:#999;"></div>
<div style="left:105.8px;top:81.4px;width:66.6px;height:1.7px;background:linear-gradient(90deg,#3a9a3a 0 11%,#3aa8f0 11% 32%,#f0a020 32% 38%,#3a9a3a 38% 45%,#8c8c8c 45% 100%);"></div>
<div style="left:101.0px;top:86.1px;width:3.0px;height:0.8px;background:#999;"></div>
<div style="left:105.8px;top:85.6px;width:66.6px;height:1.7px;background:linear-gradient(90deg,#3a9a3a 0 11%,#3aa8f0 11% 32%,#f0a020 32% 38%,#3a9a3a 38% 45%,#8c8c8c 45% 100%);"></div>
<div style="left:101.0px;top:90.5px;width:3.0px;height:0.8px;background:#999;"></div>
<div style="left:105.8px;top:90.0px;width:66.6px;height:1.7px;background:linear-gradient(90deg,#3a9a3a 0 11%,#3aa8f0 11% 32%,#f0a020 32% 38%,#3a9a3a 38% 45%,#8c8c8c 45% 100%);"></div>
<div style="left:101.0px;top:94.7px;width:3.0px;height:0.8px;background:#999;"></div>
<div style="left:105.8px;top:94.2px;width:66.6px;height:1.7px;background:linear-gradient(90deg,#3a9a3a 0 11%,#3aa8f0 11% 32%,#f0a020 32% 38%,#3a9a3a 38% 45%,#8c8c8c 45% 100%);"></div>
<div style="left:101.0px;top:99.0px;width:3.0px;height:0.8px;background:#999;"></div>
<div style="left:105.8px;top:98.5px;width:66.6px;height:1.7px;background:linear-gradient(90deg,#3a9a3a 0 11%,#3aa8f0 11% 32%,#f0a020 32% 38%,#3a9a3a 38% 45%,#8c8c8c 45% 100%);"></div>
<div style="left:30.4px;top:65.6px;width:22.1px;height:45.6px;background:#fbfbfb;border-radius:3px;box-shadow:0 0 1px rgba(0,0,0,.3)"></div>
<div style="left:31.8px;top:71.1px;width:19.3px;height:2.9px;background:#3a8ee8;"></div>
<div style="left:32.0px;top:75.3px;width:18.0px;height:0.6px;background:#ddd;"></div>
<div style="left:32.0px;top:77.3px;width:18.0px;height:0.8px;background:repeating-linear-gradient(90deg,#bbb 0 3px,transparent 3px 5px);"></div>
<div style="left:37.0px;top:84.1px;width:2.2px;height:2.4px;background:#1a4a8a;"></div>
<div style="left:40.0px;top:83.3px;width:2.2px;height:3.2px;background:#3a8ee8;"></div>
<div style="left:43.2px;top:83.7px;width:2.2px;height:2.8px;background:#1a4a8a;"></div>
<div style="left:46.0px;top:82.5px;width:2.0px;height:4.0px;background:#3a8ee8;"></div>
<div style="left:37.0px;top:92.5px;width:7.0px;height:1.8px;background:#3a8ee8;"></div>
<div style="left:32.5px;top:96.0px;width:17.0px;height:0.5px;background:#e6e6e6;"></div>
<div style="left:39.0px;top:96.1px;width:1.5px;height:0.7px;background:#f08060;"></div>
<div style="left:32.5px;top:98.4px;width:17.0px;height:0.5px;background:#e6e6e6;"></div>
<div style="left:39.0px;top:98.5px;width:1.5px;height:0.7px;background:#f08060;"></div>
<div style="left:32.5px;top:100.8px;width:17.0px;height:0.5px;background:#e6e6e6;"></div>
<div style="left:39.0px;top:100.9px;width:1.5px;height:0.7px;background:#f08060;"></div>
<div style="left:32.5px;top:103.2px;width:17.0px;height:0.5px;background:#e6e6e6;"></div>
<div style="left:39.0px;top:103.3px;width:1.5px;height:0.7px;background:#f08060;"></div>
<div style="left:32.5px;top:106.5px;width:3.0px;height:1.0px;background:#ccc;"></div>
<div style="left:39.5px;top:106.5px;width:3.0px;height:1.0px;background:#ccc;"></div>
<div style="left:46.5px;top:106.5px;width:3.0px;height:1.0px;background:#ccc;"></div>
<!--/C3-->
</div>

<div class="cap" id="t1" style="left:11px;top:167px;letter-spacing:0px">Device real-time management</div>
<div class="cap" id="t2a" style="left:244px;top:165px;letter-spacing:-0.23px">Visualization (large screen signage</div>
<div class="cap" id="t2b" style="left:269px;top:182.5px;letter-spacing:0.25px">for equipment monitoring)</div>
<div class="cap" id="t3a" style="left:503px;top:161.5px;letter-spacing:0.15px">Multiple terminals support</div>
<div class="cap" id="t3b" style="left:524.5px;top:178.5px;letter-spacing:0.18px">data communication</div>

<div class="abs" style="left:223.5px;top:366.2px;font-size:20px;line-height:20px;font-weight:bold;color:#555;letter-spacing:-0.3px">5G</div><div class="abs" style="left:255.6px;top:366.2px;font-size:20px;line-height:20px;font-weight:bold;color:#555;letter-spacing:-0.2px;transform:scaleX(0.88);transform-origin:0 0">CPE</div>

<div class="abs" style="left:420.5px;top:354.1px;width:175.6px;height:34.6px;border-radius:4.5px;background:#189ae6"></div>
<div class="abs" style="left:427.5px;top:365.8px;font-size:14px;line-height:15px;font-weight:bold;color:#fff">Data transmission</div>

<svg class="abs" style="left:0;top:0" width="727" height="702" viewBox="0 0 727 702">
  <defs>
    <linearGradient id="barg" x1="0" x2="1" y1="0" y2="0">
      <stop offset="0" stop-color="#dcdc14"/>
      <stop offset="0.5" stop-color="#f4f2b8"/>
      <stop offset="1" stop-color="#dcdc14"/>
    </linearGradient>
    <linearGradient id="lag" x1="268" y1="506" x2="310" y2="465" gradientUnits="userSpaceOnUse">
      <stop offset="0" stop-color="#e2e21c" stop-opacity="0"/>
      <stop offset="0.6" stop-color="#e2e21c" stop-opacity="0.7"/>
      <stop offset="1" stop-color="#e2e21c"/>
    </linearGradient>
    <linearGradient id="rag" x1="404" y1="464" x2="448" y2="506" gradientUnits="userSpaceOnUse">
      <stop offset="0" stop-color="#e0e010"/>
      <stop offset="0.45" stop-color="#e2e21c" stop-opacity="0.75"/>
      <stop offset="1" stop-color="#e2e21c" stop-opacity="0.1"/>
    </linearGradient>
    <radialGradient id="glow" cx="0.5" cy="0.5" r="0.5">
      <stop offset="0" stop-color="#ff2838" stop-opacity="0.7"/>
      <stop offset="0.28" stop-color="#ff4858" stop-opacity="0.3"/>
      <stop offset="0.6" stop-color="#ff8890" stop-opacity="0.1"/>
      <stop offset="1" stop-color="#ffb0b0" stop-opacity="0"/>
    </radialGradient>
    <radialGradient id="ray" cx="506" cy="553" r="42" gradientUnits="userSpaceOnUse">
      <stop offset="0" stop-color="#ff3040" stop-opacity="0.45"/>
      <stop offset="1" stop-color="#ff8090" stop-opacity="0"/>
    </radialGradient>
    <linearGradient id="boxtop" x1="0" x2="0" y1="0" y2="1"><stop offset="0" stop-color="#a6a6a6"/><stop offset="1" stop-color="#c2c2c2"/></linearGradient>
    <linearGradient id="boxfront" x1="0" x2="0" y1="0" y2="1"><stop offset="0" stop-color="#bdbdbd"/><stop offset="0.5" stop-color="#c4c4c4"/><stop offset="0.52" stop-color="#c9c9c9"/><stop offset="1" stop-color="#c6c6c6"/></linearGradient>
    <linearGradient id="btncyl" x1="0" x2="1"><stop offset="0" stop-color="#707070"/><stop offset="0.35" stop-color="#e8e8e8"/><stop offset="0.6" stop-color="#c8c8c8"/><stop offset="1" stop-color="#606060"/></linearGradient>
    <filter id="blur2" x="-50%" y="-50%" width="200%" height="200%"><feGaussianBlur stdDeviation="2.2"/></filter>
    <linearGradient id="cylr" x1="0" x2="1"><stop offset="0" stop-color="#c81420"/><stop offset="0.5" stop-color="#f0202a"/><stop offset="1" stop-color="#d81c26"/></linearGradient>
    <linearGradient id="cylo" x1="0" x2="1"><stop offset="0" stop-color="#e07810"/><stop offset="0.5" stop-color="#f89a20"/><stop offset="1" stop-color="#f0a030"/></linearGradient>
    <linearGradient id="cylgr" x1="0" x2="1"><stop offset="0" stop-color="#10987a"/><stop offset="0.5" stop-color="#22c09a"/><stop offset="1" stop-color="#18a888"/></linearGradient>
    <linearGradient id="cylg" x1="0" x2="1"><stop offset="0" stop-color="#c8c8c8"/><stop offset="0.45" stop-color="#f0f0f0"/><stop offset="1" stop-color="#c4c4c4"/></linearGradient>
    <linearGradient id="metal" x1="0" x2="0" y1="0" y2="1">
      <stop offset="0" stop-color="#d8d8d8"/>
      <stop offset="0.5" stop-color="#b8b8b8"/>
      <stop offset="1" stop-color="#cfcfcf"/>
    </linearGradient>
    <linearGradient id="blkant" x1="0" x2="1" y1="0" y2="0">
      <stop offset="0" stop-color="#6a6a6a"/>
      <stop offset="0.35" stop-color="#353535"/>
      <stop offset="1" stop-color="#262626"/>
    </linearGradient>
    <linearGradient id="silver" x1="0" x2="1" y1="0" y2="0">
      <stop offset="0" stop-color="#c4c4c4"/>
      <stop offset="0.4" stop-color="#f2f2f2"/>
      <stop offset="1" stop-color="#b8b8b8"/>
    </linearGradient>
    <pattern id="dots" width="2" height="2" patternUnits="userSpaceOnUse">
      <rect width="1" height="1" fill="#777"/>
    </pattern>
    <pattern id="hstripe" width="3" height="1.6" patternUnits="userSpaceOnUse">
      <rect width="3" height="0.5" fill="#b4b4b4"/>
    </pattern>
    <linearGradient id="blueant" x1="0" x2="1" y1="0" y2="0">
      <stop offset="0" stop-color="#9aacbd"/>
      <stop offset="0.45" stop-color="#7890a6"/>
      <stop offset="1" stop-color="#5e7287"/>
    </linearGradient>
  </defs>
  <!-- bar -->
  <rect x="111.3" y="241.5" width="485.5" height="12" fill="url(#barg)"/>
  <g fill="#dcdc14">
    <path d="M119.3 194.6 L135.1 209.8 L127.1 209.8 L127.1 214.2 L111.3 214.2 L111.3 209.8 L103.7 209.8 Z"/>
    <rect x="111.3" y="217.7" width="15.8" height="4.7"/>
    <rect x="111.3" y="226" width="15.8" height="4.4"/>
    <rect x="111.3" y="234" width="15.8" height="5"/>
  </g>
  <g fill="#dcdc14">
    <path d="M588.9 194.6 L604.6 209.8 L596.8 209.8 L596.8 214.2 L581.3 214.2 L581.3 209.8 L573.2 209.8 Z"/>
    <rect x="581.3" y="217.7" width="15.5" height="4.7"/>
    <rect x="581.3" y="226" width="15.5" height="4.4"/>
    <rect x="581.3" y="234" width="15.5" height="5"/>
  </g>
  <g>
    <path d="M353.7 194.6 L369.4 209.8 L361.6 209.8 L361.6 214.2 L345.9 214.2 L345.9 209.8 L338 209.8 Z" fill="#dede30"/>
    <rect x="345.9" y="217.7" width="15.7" height="4.7" fill="#e6e46a"/>
    <rect x="345.9" y="226" width="15.7" height="4.4" fill="#eeec98"/>
    <rect x="345.9" y="234" width="15.7" height="5" fill="#f4f2c0"/>
  </g>

  <!-- CPE wifi -->
  <g fill="#1a9be6">
    <path d="M341.1 279 A22.9 22.9 0 0 1 385.8 279 A25.5 25.5 0 0 0 341.1 279 Z"/>
    <path d="M348.3 286.8 A15.2 15.2 0 0 1 378.1 286.8 A17.75 17.75 0 0 0 348.3 286.8 Z"/>
    <path d="M355.5 292.5 A7.95 7.95 0 0 1 371.4 292.5 A9.6 9.6 0 0 0 355.5 292.5 Z"/>
  </g>

  <!-- CPE antennas -->
  <g>
    <g fill="url(#blkant)">
      <rect x="333.1" y="313" width="4.3" height="58"/>
      <rect x="342.4" y="313" width="4.3" height="58"/>
      <rect x="351.8" y="313" width="4.3" height="58"/>
      <rect x="360.6" y="313" width="4.3" height="58"/>
    </g>
    <g fill="url(#blueant)">
      <rect x="369.5" y="298.8" width="5.2" height="72" rx="2.4"/>
      <rect x="378" y="298.8" width="5.2" height="72" rx="2.4"/>
      <rect x="386.8" y="298.8" width="5.2" height="72" rx="2.4"/>
    </g>
    <g fill="#d9d9d9">
      <rect x="332.8" y="311.5" width="1.2" height="2"/><rect x="336.5" y="311.5" width="1.2" height="2"/>
      <rect x="342.1" y="311.5" width="1.2" height="2"/><rect x="345.8" y="311.5" width="1.2" height="2"/>
      <rect x="351.5" y="311.5" width="1.2" height="2"/><rect x="355.2" y="311.5" width="1.2" height="2"/>
      <rect x="360.3" y="311.5" width="1.2" height="2"/><rect x="364" y="311.5" width="1.2" height="2"/>
    </g>
    <g fill="url(#silver)">
      <rect x="332.5" y="369" width="5.6" height="20.5"/>
      <rect x="341.8" y="369" width="5.6" height="20.5"/>
      <rect x="351.2" y="369" width="5.6" height="20.5"/>
      <rect x="360" y="369" width="5.6" height="20.5"/>
      <rect x="369.3" y="369" width="5.6" height="20.5"/>
      <rect x="377.8" y="369" width="5.6" height="20.5"/>
      <rect x="386.6" y="369" width="5.6" height="20.5"/>
    </g>
    <g fill="url(#dots)" opacity="0.3">
      <rect x="332.5" y="371" width="5.6" height="18"/>
      <rect x="341.8" y="371" width="5.6" height="18"/>
      <rect x="351.2" y="371" width="5.6" height="18"/>
      <rect x="360" y="371" width="5.6" height="18"/>
      <rect x="369.3" y="371" width="5.6" height="18"/>
      <rect x="377.8" y="371" width="5.6" height="18"/>
      <rect x="386.6" y="371" width="5.6" height="18"/>
    </g>
    <!-- left side antenna -->
    <path d="M313 434.5 L313 376 Q313 373.3 315 373.3 Q317.2 373.3 317.2 376 L316.8 434.5 Z" fill="#353535"/>
    <g fill="#2a2a2a">
      <rect x="315" y="400" width="7.5" height="2.8"/>
      <rect x="315" y="410" width="7.5" height="2.8"/>
      <rect x="315" y="419.8" width="7.5" height="2.8"/>
      <rect x="315" y="430" width="7.5" height="2.8"/>
    </g>
    <g fill="#e4e4e4">
      <rect x="316.5" y="403.4" width="5.8" height="6"/>
      <rect x="316.5" y="413.3" width="5.8" height="6"/>
      <rect x="316.5" y="423.3" width="5.8" height="6.2"/>
    </g>
    <!-- right connectors -->
    <rect x="402.5" y="422" width="12.5" height="5.8" rx="2.5" fill="#262626"/>
    <rect x="402.5" y="431.2" width="12.5" height="5.8" rx="2.5" fill="#262626"/>
    <rect x="405" y="423" width="1" height="4" fill="#666"/><rect x="408" y="423" width="1" height="4" fill="#555"/>
    <rect x="405" y="432.2" width="1" height="4" fill="#666"/><rect x="408" y="432.2" width="1" height="4" fill="#555"/>
    <!-- body -->
    <rect x="322.3" y="389" width="80.5" height="56.6" rx="1.5" fill="#929292"/>
    <path d="M322.3 389 L402.8 389 L375.2 409.7 L352.9 409.7 Z" fill="#a8a8a8"/>
    <path d="M322.3 389 L402.8 389 L375.2 409.7 L352.9 409.7 Z" fill="url(#hstripe)"/>
    <path d="M322.3 445.6 L402.8 445.6 L375.2 423.7 L352.9 423.7 Z" fill="#aaaaaa"/>
    <path d="M322.3 445.6 L402.8 445.6 L375.2 423.7 L352.9 423.7 Z" fill="url(#hstripe)"/>
    <path d="M322.3 389 L352.9 409.7 L352.9 423.7 L322.3 445.6 Z" fill="#939393"/>
    <path d="M402.8 389 L375.2 409.7 L375.2 423.7 L402.8 445.6 Z" fill="#909090"/>
    <rect x="352.9" y="409.7" width="22.3" height="14" fill="#9c9c9c"/>
    <g stroke="#c8c8c8" stroke-width="0.8" fill="none">
      <path d="M323 389.5 L352.9 409.7 L375.2 409.7 L402.2 389.5 M323 445 L352.9 423.7 L375.2 423.7 L402.2 445"/>
    </g>
    <rect x="322.3" y="389" width="80.5" height="56.6" rx="1.5" fill="none" stroke="#7a7a7a" stroke-width="0.6"/>
    <rect x="355.5" y="413.2" width="17" height="1.6" fill="#dcdcdc" opacity="0.8"/>
    <rect x="356.5" y="418.3" width="15" height="1" fill="#d0d0d0" opacity="0.7"/>
    <g fill="#666"><circle cx="341" cy="390.8" r="0.7"/><circle cx="384" cy="390.8" r="0.7"/><circle cx="352" cy="444" r="0.7"/><circle cx="375" cy="444" r="0.7"/></g>
  </g>

  <!-- curved arrows -->
  <path d="M266.3 505.6 Q291.5 505 295 479.6 L288.3 476.1 L311.4 462.5 L313.4 487.7 L306.2 484.3 Q297 509.5 266.3 505.6 Z" fill="url(#lag)"/>
  <path d="M404.3 465 Q431 457.5 445.3 485.8 L452 482.8 L449.2 507.9 L427.5 494.9 L433.8 491.8 Q424 466 404.3 465 Z" fill="url(#rag)"/>

  <!-- button box wifi -->
  <g fill="#1a9be6">
    <path d="M179 538.5 A18.5 18.5 0 0 1 214.9 538.5 A20.8 20.8 0 0 0 179 538.5 Z"/>
    <path d="M185.4 543.7 A12.1 12.1 0 0 1 208.8 543.7 A14.7 14.7 0 0 0 185.4 543.7 Z"/>
    <path d="M190.7 549 A6.5 6.5 0 0 1 203.5 549 A9.45 9.45 0 0 0 190.7 549 Z"/>
  </g>
  <!-- button box -->
  <path d="M153.1 562.7 L246.2 562.7 L248.6 579.6 L146.3 579.6 Z" fill="url(#boxtop)"/>
  <path d="M146.3 580.4 L248.7 580.4 L246.2 611.8 L152.7 611.8 Z" fill="url(#boxfront)"/>
  <rect x="146.3" y="579.2" width="102.4" height="1.4" fill="#f4f4f4"/>
  <path d="M147.8 596 L247.4 596 L247.3 597 L147.9 597 Z" fill="#dedede"/>
  <path d="M152.5 610.6 L246.3 610.6 L246.2 611.8 L152.7 611.8 Z" fill="#9c9c9c"/>
  <g>
    <rect x="157.4" y="565.3" width="10.2" height="7.8" fill="url(#btncyl)"/>
    <ellipse cx="162.5" cy="573.1" rx="5.1" ry="1.3" fill="#8a8a8a"/>
    <ellipse cx="162.5" cy="565.3" rx="5" ry="2.8" fill="#c41a1e"/>
    <ellipse cx="162.5" cy="564.9" rx="3.4" ry="1.7" fill="#e0404a" opacity="0.5"/>
    <rect x="175.4" y="565.3" width="10.2" height="7.8" fill="url(#btncyl)"/>
    <ellipse cx="180.5" cy="573.1" rx="5.1" ry="1.3" fill="#8a8a8a"/>
    <ellipse cx="180.5" cy="565.3" rx="5" ry="2.8" fill="#c41a1e"/>
    <ellipse cx="180.5" cy="564.9" rx="3.4" ry="1.7" fill="#e0404a" opacity="0.5"/>
    <rect x="193.3" y="565.3" width="10.2" height="7.8" fill="url(#btncyl)"/>
    <ellipse cx="198.4" cy="573.1" rx="5.1" ry="1.3" fill="#8a8a8a"/>
    <ellipse cx="198.4" cy="565.3" rx="5" ry="2.8" fill="#c41a1e"/>
    <ellipse cx="198.4" cy="564.9" rx="3.4" ry="1.7" fill="#e0404a" opacity="0.5"/>
    <rect x="211.5" y="565.3" width="10.2" height="7.8" fill="url(#btncyl)"/>
    <ellipse cx="216.6" cy="573.1" rx="5.1" ry="1.3" fill="#8a8a8a"/>
    <ellipse cx="216.6" cy="565.3" rx="5" ry="2.8" fill="#e0b020"/>
    <ellipse cx="216.6" cy="564.9" rx="3.4" ry="1.7" fill="#f0c840" opacity="0.5"/>
    <rect x="229.8" y="565.3" width="10.2" height="7.8" fill="url(#btncyl)"/>
    <ellipse cx="234.9" cy="573.1" rx="5.1" ry="1.3" fill="#8a8a8a"/>
    <ellipse cx="234.9" cy="565.3" rx="5" ry="2.8" fill="#188a4c"/>
    <ellipse cx="234.9" cy="564.9" rx="3.4" ry="1.7" fill="#30a868" opacity="0.5"/>
  </g>
  <!-- factory scene -->
  <g fill="#555">
    <rect x="271.8" y="526" width="183.4" height="1.7"/>
    <rect x="320" y="529.1" width="1.6" height="8.6"/>
    <path d="M317.7 543.6 A3.1 3.1 0 0 1 323.9 543.6 Z"/>
    <path d="M315.1 546.2 L326.2 546.2 L334.5 554.5 L306.8 554.5 Z"/>
    <rect x="405.4" y="529.1" width="1.6" height="8.6"/>
    <path d="M403.1 543.6 A3.1 3.1 0 0 1 409.3 543.6 Z"/>
    <path d="M400.5 546.2 L411.6 546.2 L419.6 554.5 L392.3 554.5 Z"/>
    <!-- worker -->
    <path d="M354.5 565.6 C354.5 558.5 357.8 555 362.7 555 C367.6 555 371 558.5 371 565.6 Z"/>
    <rect x="353.9" y="565.1" width="17.7" height="1.9"/>
    <path d="M356.1 567.9 L369.5 567.9 Q370.7 572.3 368.7 574.2 Q367.8 579.3 362.8 580.4 Q357.8 579.3 356.9 574.2 Q354.9 572.3 356.1 567.9 Z"/>
    <rect x="359.9" y="578" width="5.8" height="4.5"/>
    <path d="M353.4 581.6 L372.4 581.6 L372.4 599.2 L353.4 599.2 Z"/>
    <path d="M348.6 582 L349.5 582 L349.5 598.9 L339.6 598.9 Q340.3 585.5 348.6 582 Z"/>
    <path d="M377 582 L376.2 582 L376.2 598.9 L386 598.9 Q385.3 585.5 377 582 Z"/>
    <rect x="356.2" y="600.8" width="13.2" height="6"/>
    <path d="M342 600.8 L348.9 600.8 L354.6 610.3 L350.4 613.6 Z"/>
    <path d="M377 600.8 L384 600.8 L375.2 613.6 L371 610.3 Z"/>
    <circle cx="351.7" cy="612.3" r="3"/>
    <circle cx="373.8" cy="612.3" r="3"/>
    <!-- conveyor -->
    <rect x="266.6" y="623.2" width="192.8" height="16.6" rx="8.3"/>
    <path d="M275.7 641.3 L451.2 641.3 L451.2 674 Q451.2 677 448.2 677 L278.7 677 Q275.7 677 275.7 674 Z"/>
  </g>
  <g fill="#fff">
    <circle cx="296" cy="631.6" r="5.1"/>
    <circle cx="329.6" cy="631.6" r="5.1"/>
    <circle cx="362.9" cy="631.6" r="5.1"/>
    <circle cx="396.8" cy="631.6" r="5.1"/>
    <circle cx="430.7" cy="631.6" r="5.1"/>
  </g>
  <g fill="#e64a33">
    <rect x="285.7" y="606.5" width="17.9" height="11.5"/>
    <rect x="320.2" y="606.5" width="17.6" height="11.5"/>
    <rect x="354.4" y="606.5" width="16.6" height="11.5"/>
    <rect x="388.3" y="606.5" width="16.9" height="11.5"/>
    <rect x="422.5" y="606.5" width="17.2" height="11.5"/>
  </g>

  <!-- db icon -->
  <g fill="#fff">
    <path d="M555 362 Q563 358.8 571.4 362 L571.4 364.6 Q563 366.2 555 364.6 Z"/>
    <path d="M555 365.8 Q563 367.4 571.4 365.8 L571.4 369.6 Q563 371.6 555 369.6 Z"/>
    <path d="M555 371 Q563 373 571.4 371 L571.4 375.2 Q563 377.2 555 375.2 Z"/>
    <path d="M555 376.6 Q563 378.6 571.4 376.6 L571.4 381.2 Q563 383.6 555 381.2 Z"/>
  </g>
  <!-- tower light -->
  <circle cx="506" cy="553" r="38" fill="url(#glow)"/>
  <g fill="url(#ray)" filter="url(#blur2)">
    <path d="M506 553 L484 526 L493 521 Z"/>
    <path d="M506 553 L528 519 L537 525 Z"/>
    <path d="M506 553 L548 542 L549 553 Z"/>
    <path d="M506 553 L467 565 L465 553 Z"/>
    <path d="M506 553 L537 579 L529 588 Z"/>
    <path d="M506 553 L480 588 L471 580 Z"/>
  </g>
  <rect x="497" y="543.1" width="18.4" height="3.6" rx="1" fill="url(#cylg)"/>
  <rect x="496.9" y="546.7" width="18.5" height="16.2" fill="url(#cylr)"/>
  <rect x="496.9" y="559.8" width="18.5" height="3.1" fill="#b81818" opacity="0.6"/>
  <rect x="496.9" y="562.9" width="18.5" height="11.5" fill="url(#cylo)"/>
  <rect x="496.9" y="574.4" width="18.5" height="3" fill="#a88a20"/>
  <rect x="496.9" y="577.4" width="18.5" height="14.6" fill="url(#cylgr)"/>
  <rect x="496.9" y="587.7" width="18.5" height="4.3" fill="#118060" opacity="0.7"/>
  <rect x="496.9" y="592" width="18.5" height="25.7" fill="url(#cylg)"/>
  <rect x="496.9" y="616.5" width="18.5" height="1.2" fill="#bcbcbc"/>
  <path d="M509 652 L530 643 Q535 650 529 656 L509 663 Z" fill="#e4e4e4" opacity="0.7" filter="url(#blur2)"/>
  <rect x="503" y="617.7" width="6.6" height="31" fill="url(#cylg)"/>
  <rect x="501.8" y="648" width="9" height="11" fill="url(#cylg)"/>
  <ellipse cx="506" cy="661.5" rx="11" ry="3.6" fill="url(#cylg)" stroke="#c0c0c0" stroke-width="0.5"/>
  <ellipse cx="506" cy="659.8" rx="4.5" ry="1.4" fill="#d4d4d4"/>
</svg>

<div id="strip"></div>
</body></html>
